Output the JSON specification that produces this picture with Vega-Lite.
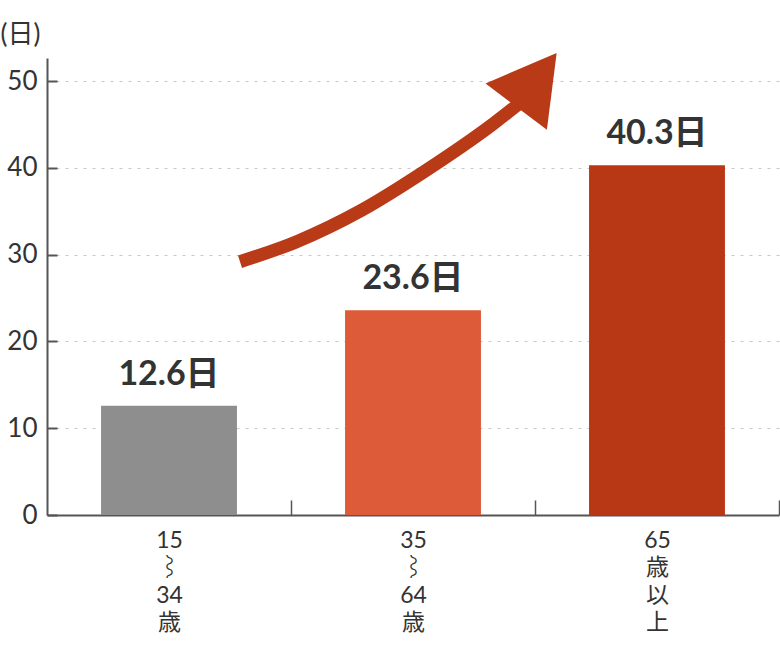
{
  "$schema": "https://vega.github.io/schema/vega-lite/v6.json",
  "width": 732,
  "height": 457,
  "autosize": "none",
  "padding": {"left": 47, "top": 58, "right": 1, "bottom": 136},
  "background": "white",
  "config": {"view": {"stroke": null}, "font": "Lato, Noto Sans CJK JP, sans-serif"},
  "datasets": {
    "bars": [
      {"age": "15 ⌇ 34 歳", "days": 12.6, "label": "12.6日"},
      {"age": "35 ⌇ 64 歳", "days": 23.6, "label": "23.6日"},
      {"age": "65 歳 以 上", "days": 40.3, "label": "40.3日"}
    ],
    "arrow": [
      {"pos": 0.791, "days": 29.18},
      {"pos": 1.023, "days": 31.49},
      {"pos": 1.291, "days": 35.14},
      {"pos": 1.556, "days": 39.75},
      {"pos": 1.828, "days": 45.05},
      {"pos": 1.959, "days": 47.93}
    ],
    "head": [{"pos": 1.994, "days": 49.7}]
  },
  "resolve": {"scale": {"x": "independent"}},
  "layer": [
    {
      "data": {"name": "bars"},
      "encoding": {
        "x": {
          "field": "age", "type": "nominal", "sort": null,
          "scale": {"paddingInner": 0.443, "paddingOuter": 0.2215},
          "axis": {
            "title": null, "labelAngle": 0, "labelFontSize": 23, "labelColor": "#333",
            "labelLineHeight": 27.5, "labelExpr": "split(datum.label, ' ')",
            "labelPadding": 29, "tickOffset": 122, "labelOffset": -122, "tickSize": -15, "tickColor": "#555",
            "tickWidth": 1.5, "domainColor": "#555", "domainWidth": 2, "grid": false
          }
        },
        "y": {
          "field": "days", "type": "quantitative",
          "scale": {"domain": [0, 52.65], "nice": false},
          "axis": {
            "values": [0, 10, 20, 30, 40, 50], "grid": true, "gridDash": [3, 6],
            "gridColor": "#c8c8c8", "gridWidth": 1.2, "tickSize": -10, "tickColor": "#555",
            "tickWidth": 2, "domainColor": "#555", "domainWidth": 2,
            "labelFontSize": 26, "labelColor": "#333", "labelPadding": 20,
            "title": "(日)", "titleAngle": 0, "titleX": -47, "titleY": -24,
            "titleAlign": "left", "titleBaseline": "middle", "titleFontSize": 26,
            "titleFontWeight": "normal", "titleColor": "#333"
          }
        }
      },
      "layer": [
        {
          "mark": {"type": "bar"},
          "encoding": {
            "color": {
              "field": "age", "type": "nominal", "sort": null, "legend": null,
              "scale": {"range": ["#8E8E8E", "#DD5B38", "#B83815"]}
            }
          }
        },
        {
          "mark": {"type": "text", "baseline": "bottom", "dy": -14, "fontSize": 34, "fontWeight": "bold", "color": "#333"},
          "encoding": {"text": {"field": "label"}}
        }
      ]
    },
    {
      "layer": [
        {
          "data": {"name": "arrow"},
          "mark": {"type": "line", "interpolate": "monotone", "strokeWidth": 13, "color": "#B83A16", "strokeCap": "butt"},
          "encoding": {
            "x": {"field": "pos", "type": "quantitative", "scale": {"domain": [0, 3], "nice": false, "zero": false}, "axis": null},
            "y": {"field": "days", "type": "quantitative"}
          }
        },
        {
          "data": {"name": "head"},
          "mark": {"type": "point", "shape": "M0,-1L1,0.75L-1,0.75Z", "size": 5900, "angle": 37, "filled": true, "color": "#B83A16", "opacity": 1},
          "encoding": {
            "x": {"field": "pos", "type": "quantitative", "scale": {"domain": [0, 3], "nice": false, "zero": false}, "axis": null},
            "y": {"field": "days", "type": "quantitative"}
          }
        }
      ]
    }
  ]
}
